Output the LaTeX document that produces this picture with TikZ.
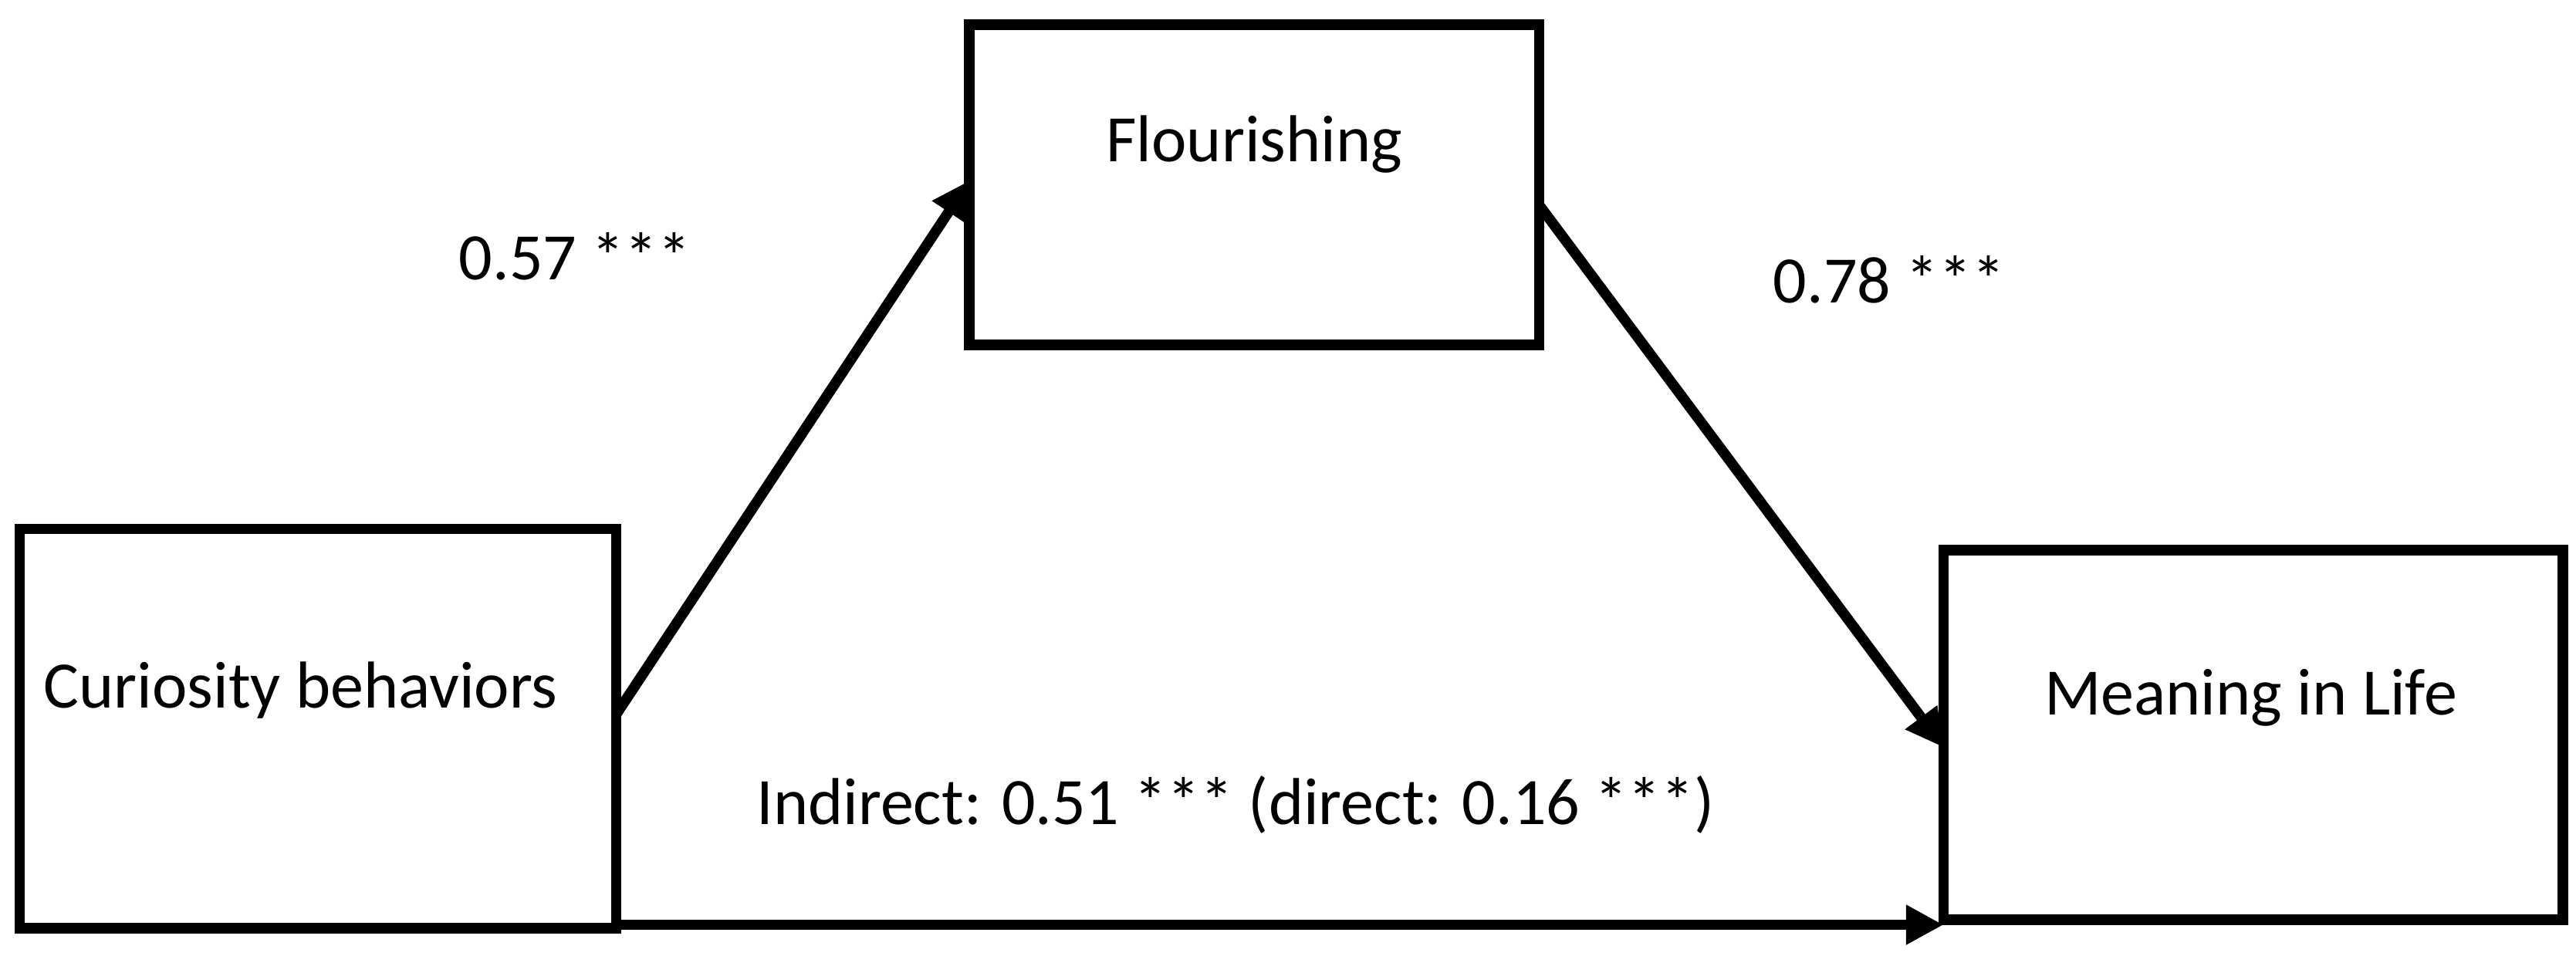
\documentclass[tikz,border=0pt]{standalone}
\usepackage{fontspec}
\setmainfont{Carlito}
\usetikzlibrary{arrows.meta}
\begin{document}
\begin{tikzpicture}[x=0.02cm,y=-0.02cm,line width=3.6pt,>={Triangle[length=13pt,width=13pt]},
  box/.style={draw=black,fill=none,font=\fontsize{23}{27}\selectfont},
  lab/.style={font=\fontsize{23}{27}\selectfont}]
    \useasboundingbox (0,0) rectangle (1568,582);
    \node[box,minimum width=363*0.02cm,minimum height=243*0.02cm] (cur) at (193.5,443.5) {};
    \node[lab] (curt) at (183,420) {Curiosity behaviors};
    \node[box,minimum width=347*0.02cm,minimum height=195*0.02cm] (flo) at (763.5,112.5) {};
    \node[lab] (flot) at (763.5,88) {Flourishing};
    \node[box,minimum width=377*0.02cm,minimum height=225*0.02cm] (mea) at (1371.5,447.5) {};
    \node[lab] (meat) at (1370,425) {Meaning in Life};
    \coordinate (cs) at (375,435);
    \coordinate (ct) at (590,110);
    \coordinate (fs) at (937,125);
    \coordinate (mt) at (1183,455);
    \coordinate (bs) at (375,563);
    \coordinate (bt) at (1183,563);
    \draw[->] (cs) -- (ct);
    \draw[->] (fs) -- (mt);
    \draw[->] (bs) -- (bt);
    \node[lab] (a) at (350,156) {0.57 ***};
    \node[lab] (b) at (1150,170) {0.78 ***};
    \node[lab] (c) at (752,490) {Indirect: 0.51 *** (direct: 0.16 ***)};
\end{tikzpicture}
\end{document}
